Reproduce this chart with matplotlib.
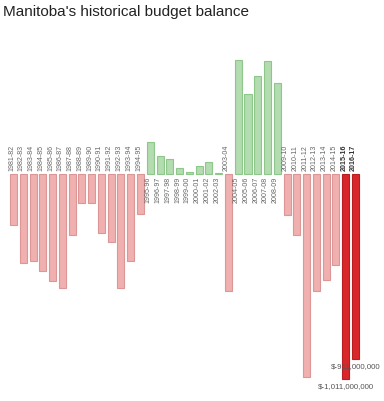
import numpy as np
import matplotlib
matplotlib.use("Agg")
import matplotlib.pyplot as plt

plt.rcParams['font.family'] = ['Liberation Sans', 'DejaVu Sans']

years = ["1981-82", "1982-83", "1983-84", "1984-85", "1985-86", "1986-87",
         "1987-88", "1988-89", "1989-90", "1990-91", "1991-92", "1992-93",
         "1993-94", "1994-95", "1995-96", "1996-97", "1997-98", "1998-99",
         "1999-00", "2000-01", "2001-02", "2002-03", "2003-04", "2004-05",
         "2005-06", "2006-07", "2007-08", "2008-09", "2009-10", "2010-11",
         "2011-12", "2012-13", "2013-14", "2014-15", "2015-16", "2016-17"]

# budget balance, millions of dollars
balance = [-251, -437, -430, -479, -527, -560,
           -300, -144, -144, -292, -335, -563,
           -430, -197, 156, 87, 75, 31,
           10, 41, 61, 5, -578, 562,
           394, 484, 557, 448, -202, -299,
           -1001, -578, -522, -450, -1011, -911]

highlight = ["2015-16", "2016-17"]
value_labels = {"2015-16": "$-1,011,000,000", "2016-17": "$-911,000,000"}

fig = plt.figure(figsize=(3.84, 4.02), dpi=100)
ax = fig.add_axes([0, 0, 1, 1])
ax.set_xlim(-1.382, 37.92)
ax.set_ylim(-1119, 863)
ax.axis('off')

x = np.arange(len(years))
for i, (yr, v) in enumerate(zip(years, balance)):
    if yr in highlight:
        fc, ec = '#d9262b', '#b81d22'
    elif v < 0:
        fc, ec = '#f0b0b0', '#dd9696'
    else:
        fc, ec = '#b3dcb0', '#8ec78a'
    ax.bar(i, v, width=0.72, color=fc, edgecolor=ec, linewidth=0.8)

    bold = yr in highlight
    tc = '#333333' if bold else '#666666'
    if v < 0:
        ax.text(i - 0.2, 20, yr, rotation=90, ha='center', va='bottom',
                fontsize=5.1, color=tc, fontweight='bold' if bold else 'normal')
    else:
        ax.text(i - 0.2, -10, yr, rotation=90, ha='center', va='top',
                fontsize=5.1, color=tc)

    if yr in value_labels:
        ax.text(i, v - 15, value_labels[yr], ha='center', va='top',
                fontsize=5.7, color='#555555')

fig.text(0.008, 0.988, "Manitoba's historical budget balance", ha='left', va='top',
         fontsize=11, color='#222222')

fig.savefig("out.png", dpi=100)
